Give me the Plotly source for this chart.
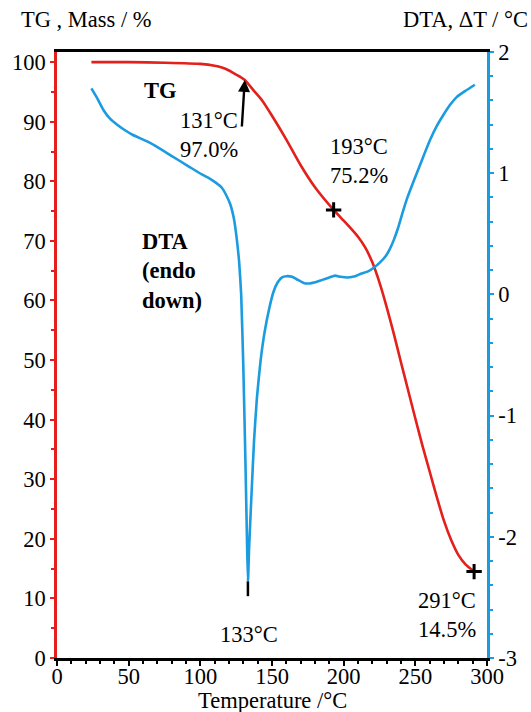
import plotly.graph_objects as go

# TG curve (mass %) vs temperature
tg_temp = [24, 50, 75, 100, 110, 115, 120, 125, 131, 137, 143, 150, 160, 170, 180, 193,
           200, 205, 210, 215, 220, 225, 230, 235, 240, 245, 250, 255, 260, 265, 270,
           275, 280, 285, 291]
tg_mass = [100.0, 100.0, 99.9, 99.7, 99.4, 99.1, 98.6, 97.9, 97.0, 95.3, 93.6, 91.0, 87.0,
           82.7, 79.0, 75.2, 73.4, 72.1, 70.7, 68.9, 66.4, 63.0, 58.9, 54.4, 49.6, 44.9,
           40.2, 35.6, 31.3, 27.0, 23.0, 19.8, 17.3, 15.7, 14.5]

# DTA curve (delta T, °C) vs temperature
dta_temp = [24, 28, 32.5, 37, 42, 48, 53, 65, 79, 92, 101, 106, 111, 115, 118, 121, 123.5,
            125.5, 127, 128.5, 130, 131.5, 132.5, 133.2, 134, 135.5, 137.5, 139.5, 142, 145,
            148, 151, 154, 157, 160, 164, 168, 172, 176, 180, 185, 190, 194, 198, 203, 208,
            212, 217, 221, 225, 229, 232, 235, 238, 241, 244.5, 249, 253, 257, 260.5, 265,
            269, 274, 279, 285, 291.5]
dta_dt = [1.70, 1.62, 1.52, 1.45, 1.40, 1.35, 1.315, 1.25, 1.15, 1.055, 0.99, 0.96, 0.92,
          0.88, 0.82, 0.74, 0.62, 0.45, 0.28, 0.0, -0.6, -1.4, -2.0, -2.38, -2.1, -1.7,
          -1.2, -0.85, -0.55, -0.3, -0.12, 0.02, 0.10, 0.14, 0.15, 0.145, 0.12, 0.095,
          0.09, 0.10, 0.12, 0.14, 0.155, 0.145, 0.14, 0.15, 0.17, 0.19, 0.22, 0.26, 0.31,
          0.37, 0.45, 0.55, 0.67, 0.80, 0.94, 1.06, 1.18, 1.28, 1.39, 1.47, 1.56, 1.63,
          1.68, 1.73]

# marked points on TG
mark_temp = [193, 291]
mark_mass = [75.2, 14.5]

x_ticks = [0, 50, 100, 150, 200, 250, 300]
y_ticks = [0, 10, 20, 30, 40, 50, 60, 70, 80, 90, 100]
y2_ticks = [-3, -2, -1, 0, 1, 2]
y2_labels = ["-3", "-2", "-1", "0", "1", "2"]

RED = "#e3201b"
BLUE = "#1b9be0"
FONT = "Liberation Serif"
FS = 22.5

fig = go.Figure()
fig.add_trace(go.Scatter(x=tg_temp, y=tg_mass, mode="lines",
                         line=dict(color=RED, width=2.6, shape="spline", smoothing=0.6),
                         yaxis="y", showlegend=False, hoverinfo="skip"))
fig.add_trace(go.Scatter(x=dta_temp, y=dta_dt, mode="lines",
                         line=dict(color=BLUE, width=2.6, shape="spline", smoothing=0.4),
                         yaxis="y2", showlegend=False, hoverinfo="skip"))
fig.add_trace(go.Scatter(x=mark_temp, y=mark_mass, mode="markers",
                         marker=dict(symbol="cross-thin", size=11,
                                     line=dict(color="black", width=3)),
                         yaxis="y", showlegend=False, hoverinfo="skip"))

# small black tick under the DTA minimum
fig.add_shape(type="line", xref="x", yref="y2", x0=133.2, x1=133.2, y0=-2.37, y1=-2.49,
              line=dict(color="black", width=2.5))

annots = [
    dict(x=72, y=95.3, text="<b>TG</b>", xanchor="center"),
    dict(x=58, y=64.9, text="<b>DTA<br>(endo<br>down)</b>", xanchor="left", align="left"),
    dict(x=105.7, y=87.8, text="131°C<br>97.0%", xanchor="center", align="left"),
    dict(x=210.8, y=83.4, text="193°C<br>75.2%", xanchor="center", align="left"),
    dict(x=272.3, y=7.2, text="291°C<br>14.5%", xanchor="center", align="left"),
    dict(x=134, y=4.0, text="133°C", xanchor="center"),
]
for a in annots:
    fig.add_annotation(xref="x", yref="y", showarrow=False, yanchor="middle",
                       font=dict(family=FONT, size=FS, color="black"), **a)

# arrow pointing at 131 °C / 97.0 %
fig.add_annotation(x=131, y=97.0, xref="x", yref="y", text="", showarrow=True,
                   ax=-3, ay=48, arrowhead=2, arrowsize=1.0, arrowwidth=2.4,
                   arrowcolor="black")

# axis titles
fig.add_annotation(xref="paper", yref="paper", x=-0.088, y=1.053, text="TG , Mass / %",
                   showarrow=False, xanchor="left", yanchor="middle",
                   font=dict(family=FONT, size=FS, color="black"))
fig.add_annotation(xref="paper", yref="paper", x=1.101, y=1.053, text="DTA, ΔT / °C",
                   showarrow=False, xanchor="right", yanchor="middle",
                   font=dict(family=FONT, size=FS, color="black"))
fig.add_annotation(xref="paper", yref="paper", x=0.5, y=-0.07, text="Temperature /°C",
                   showarrow=False, xanchor="center", yanchor="middle",
                   font=dict(family=FONT, size=FS, color="black"))

fig.update_layout(
    width=531, height=712,
    margin=dict(l=53, r=44, t=52, b=54),
    plot_bgcolor="white", paper_bgcolor="white",
    font=dict(family=FONT, size=FS, color="black"),
    xaxis=dict(range=[0, 300], tickvals=x_ticks, showgrid=False, zeroline=False,
               showline=True, linecolor="black", linewidth=2.5, mirror=True,
               ticks="outside", ticklen=5, tickwidth=2, tickcolor="black",
               ticklabelstandoff=-9,
               minor=dict(dtick=10, ticks="outside", ticklen=3, tickwidth=2, tickcolor="black"),
               tickfont=dict(family=FONT, size=FS, color="black")),
    yaxis=dict(range=[0, 101.7], tickvals=y_ticks, showgrid=False, zeroline=False,
               showline=True, linecolor=RED, linewidth=2.5,
               ticks="outside", ticklen=4, tickwidth=2, tickcolor=RED,
               minor=dict(dtick=5, ticks="outside", ticklen=3, tickwidth=1.5, tickcolor=RED),
               tickfont=dict(family=FONT, size=FS, color="black")),
    yaxis2=dict(range=[-3, 2], tickvals=y2_ticks, ticktext=y2_labels, overlaying="y",
                side="right", showgrid=False, zeroline=False,
                showline=True, linecolor=BLUE, linewidth=2.5,
                ticks="outside", ticklen=4, tickwidth=2, tickcolor=BLUE,
                minor=dict(dtick=0.2, ticks="outside", ticklen=3, tickwidth=1.5, tickcolor=BLUE),
                tickfont=dict(family=FONT, size=FS, color="black")),
)

fig.write_html("out.html")
